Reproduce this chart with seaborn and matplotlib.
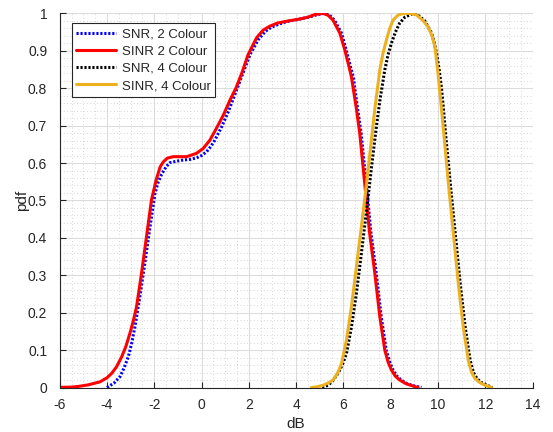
import numpy as np
import pandas as pd
import matplotlib
matplotlib.use("Agg")
import matplotlib.pyplot as plt
import seaborn as sns
from matplotlib.ticker import MultipleLocator, FuncFormatter

# ---- data ----
snr2_x = [-4.0, -3.85, -3.7, -3.45, -3.28, -3.10, -2.95, -2.82, -2.61, -2.40, -2.18, -1.97, -1.83,
          -1.69, -1.5, -1.34, -1.05, -0.78, -0.45, -0.21, 0.0, 0.21, 0.40, 0.56, 0.85, 1.13, 1.48,
          1.75, 2.05, 2.4, 2.7, 2.95, 3.3, 3.6, 4.16, 4.55, 4.9, 5.2, 5.42, 5.62, 5.92, 6.12, 6.3,
          6.42, 6.6, 6.75, 6.96, 7.17, 7.39, 7.6, 7.81, 7.97, 8.1, 8.27, 8.44, 8.7, 9.0, 9.3]
snr2_y = [0.0, 0.006, 0.012, 0.029, 0.052, 0.082, 0.12, 0.162, 0.243, 0.332, 0.430, 0.519, 0.55,
          0.57, 0.59, 0.601, 0.605, 0.608, 0.61, 0.614, 0.62, 0.630, 0.645, 0.661, 0.697, 0.737, 0.795,
          0.84, 0.89, 0.93, 0.952, 0.963, 0.972, 0.978, 0.985, 0.99, 0.997, 1.0, 0.995, 0.982, 0.947, 0.902, 0.857,
          0.83, 0.745, 0.68, 0.546, 0.412, 0.305, 0.189, 0.100, 0.066, 0.047, 0.03, 0.020, 0.01, 0.004, 0.0]

sinr2_x = [-6.0, -5.5, -5.2, -4.8, -4.3, -4.0, -3.8, -3.6, -3.38, -3.2, -3.03, -2.88, -2.75, -2.54,
           -2.33, -2.12, -1.92, -1.75, -1.62, -1.45, -1.20, -0.9, -0.63, -0.21, 0.07, 0.35, 0.63,
           0.92, 1.20, 1.45, 1.70, 1.97, 2.33, 2.6, 2.89, 3.2, 3.59, 4.16, 4.5, 4.8, 5.14, 5.35,
           5.56, 5.85, 6.06, 6.24, 6.34, 6.55, 6.69, 6.90, 7.11, 7.33, 7.54, 7.75, 7.9, 8.03, 8.2,
           8.38, 8.65, 8.95, 9.16]
sinr2_y = [0.0005, 0.001, 0.003, 0.007, 0.015, 0.026, 0.038, 0.055, 0.082, 0.11, 0.145, 0.18, 0.216, 0.305,
           0.403, 0.501, 0.555, 0.59, 0.603, 0.613, 0.617, 0.617, 0.617, 0.626, 0.639, 0.661, 0.693,
           0.728, 0.768, 0.80, 0.84, 0.89, 0.935, 0.955, 0.966, 0.974, 0.979, 0.985, 0.99, 0.997, 1.0, 0.995,
           0.982, 0.947, 0.902, 0.857, 0.83, 0.745, 0.68, 0.546, 0.412, 0.305, 0.189, 0.100, 0.066, 0.047, 0.03,
           0.020, 0.01, 0.004, 0.0]

snr4_x = [5.1, 5.35, 5.55, 5.77, 5.95, 6.13, 6.34, 6.55, 6.76, 6.98, 7.19, 7.40, 7.55, 7.75, 7.89,
          8.03, 8.2, 8.38, 8.6, 8.95, 9.2, 9.44, 9.6, 9.73, 9.85, 9.94, 10.05, 10.15, 10.23, 10.32,
          10.52, 10.73, 10.94, 11.15, 11.36, 11.5, 11.65, 11.82, 12.0, 12.3]
snr4_y = [0.0, 0.006, 0.018, 0.038, 0.06, 0.091, 0.162, 0.252, 0.359, 0.474, 0.590, 0.70, 0.77, 0.849, 0.89,
          0.92, 0.95, 0.974, 0.99, 1.0, 0.993, 0.98, 0.962, 0.947, 0.92, 0.893, 0.849, 0.80, 0.746, 0.679,
          0.546, 0.412, 0.278, 0.162, 0.073, 0.04, 0.024, 0.014, 0.008, 0.0]

sinr4_x = [4.65, 4.9, 5.14, 5.35, 5.56, 5.75, 5.92, 6.13, 6.34, 6.55, 6.76, 6.98, 7.19, 7.32, 7.54,
           7.68, 7.82, 7.96, 8.1, 8.3, 8.53, 8.8, 9.09, 9.35, 9.58, 9.75, 9.87, 10.01, 10.11, 10.23,
           10.44, 10.65, 10.86, 11.07, 11.28, 11.42, 11.57, 11.75, 11.92, 12.27]
sinr4_y = [0.0, 0.002, 0.006, 0.012, 0.020, 0.038, 0.064, 0.127, 0.216, 0.323, 0.430, 0.546, 0.665, 0.74, 0.849,
           0.895, 0.929, 0.96, 0.982, 0.995, 1.0, 1.0, 0.996, 0.982, 0.964, 0.94, 0.911, 0.835, 0.77, 0.69,
           0.546, 0.412, 0.278, 0.162, 0.073, 0.04, 0.024, 0.014, 0.008, 0.0]

labels = ["SNR, 2 Colour", "SINR 2 Colour", "SNR, 4 Colour", "SINR, 4 Colour"]
x_ticks = [-6, -4, -2, 0, 2, 4, 6, 8, 10, 12, 14]

# ---- plot ----
sns.set_theme(style="white")
plt.rcParams["font.family"] = ["Liberation Sans", "DejaVu Sans"]

fig = plt.figure(figsize=(5.53, 4.32), dpi=100)
ax = fig.add_axes([0.108, 0.103, 0.855, 0.866])

text_col = "#262626"
series = [
    (snr2_x, snr2_y, labels[0], "#0000FF", (0, (0.7, 0.6))),
    (sinr2_x, sinr2_y, labels[1], "#FF0000", "-"),
    (snr4_x, snr4_y, labels[2], "#000000", (0, (0.7, 0.6))),
    (sinr4_x, sinr4_y, labels[3], "#EDB120", "-"),
]
for xs, ys, lab, col, ls in series:
    df = pd.DataFrame({"dB": xs, "pdf": ys})
    sns.lineplot(data=df, x="dB", y="pdf", ax=ax, color=col, linestyle=ls,
                 linewidth=2.2, label=lab, sort=True, estimator=None)

for ln in ax.get_lines():
    ln.set_solid_joinstyle("round")
    ln.set_dash_joinstyle("round")

ax.set_xlim(-6, 14)
ax.set_ylim(0, 1)
ax.set_xticks(x_ticks)
ax.set_xticklabels([str(t) for t in x_ticks])
ax.yaxis.set_major_locator(MultipleLocator(0.1))
ax.yaxis.set_major_formatter(FuncFormatter(lambda v, p: "0" if abs(v) < 1e-9 else ("1" if abs(v - 1) < 1e-9 else f"{v:.1f}")))
ax.xaxis.set_minor_locator(MultipleLocator(0.5))
ax.yaxis.set_minor_locator(MultipleLocator(0.02))

ax.grid(True, which="major", color="#DCDCDC", linewidth=0.8, linestyle="-")
ax.grid(True, which="minor", color="#C8C8C8", linewidth=0.6, linestyle=(0, (1, 3)))
ax.set_axisbelow(True)

for s in ["top", "right"]:
    ax.spines[s].set_visible(False)
for s in ["left", "bottom"]:
    ax.spines[s].set_color(text_col)
    ax.spines[s].set_linewidth(0.8)

ax.tick_params(axis="both", which="major", direction="in", length=4, width=0.8,
               colors=text_col, labelsize=10, left=True, bottom=True, top=False, right=False)
ax.tick_params(axis="x", which="major", pad=7.5)
ax.tick_params(axis="y", which="major", pad=9)
ax.tick_params(axis="both", which="minor", length=0)
ax.set_xlabel("dB", fontsize=11, color=text_col, labelpad=4)
ax.set_ylabel("pdf", fontsize=11, color=text_col, labelpad=-1)

leg = ax.legend(loc="upper left", bbox_to_anchor=(0.025, 0.973), fontsize=9.5,
                frameon=True, fancybox=False, framealpha=1, edgecolor=text_col,
                handlelength=3.0, handletextpad=0.45, borderpad=0.35, labelspacing=0.38,
                borderaxespad=0)
leg.get_frame().set_linewidth(0.8)

fig.savefig("out.png", dpi=100, facecolor="white")
